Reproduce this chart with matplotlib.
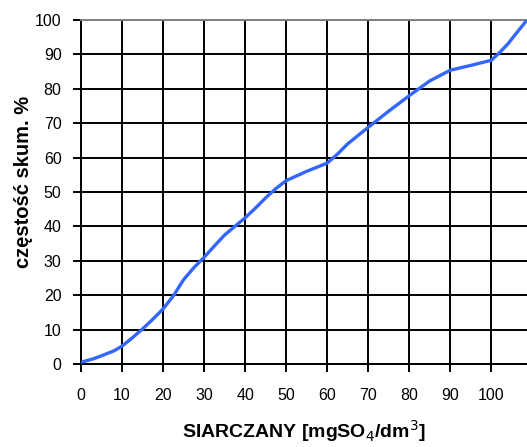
import matplotlib
matplotlib.use("Agg")
import matplotlib.pyplot as plt

plt.rcParams['font.family'] = ['Liberation Sans', 'DejaVu Sans']

# cumulative frequency of sulphate concentration
siarczany = [0, 3, 5, 8, 10, 12.5, 15, 17.5, 20, 22.5, 25, 27.5, 30, 32.5, 35, 37.5,
             40, 42.5, 45, 47.5, 50, 55, 60, 62.5, 65, 70, 75, 80, 85, 90, 95,
             100, 102, 104, 106, 108.7]
czestosc = [0.5, 1.5, 2.4, 3.8, 5.2, 7.6, 10.2, 13.0, 16.0, 19.8, 24.5, 28.0, 31.0, 34.3, 37.5, 40.0,
            42.5, 45.3, 48.3, 51.0, 53.3, 56.0, 58.4, 61.0, 64.0, 68.8, 73.5, 78.0, 82.3, 85.4, 86.8,
            88.3, 90.5, 93.0, 96.0, 100.0]

x_ticks = [0, 10, 20, 30, 40, 50, 60, 70, 80, 90, 100]
y_ticks = [0, 10, 20, 30, 40, 50, 60, 70, 80, 90, 100]

fig = plt.figure(figsize=(5.27, 4.47), dpi=100)
ax = fig.add_axes([0.1537, 0.1857, 0.8463, 0.7696])

ax.plot(siarczany, czestosc, color='#3366ff', linewidth=2.4, solid_capstyle='round', zorder=3)

ax.set_xlim(0, 108.7)
ax.set_ylim(0, 100)
ax.set_xticks(x_ticks)
ax.set_yticks(y_ticks)
ax.grid(True, color='black', linewidth=1.4)
ax.set_axisbelow(True)

for side in ('left', 'bottom'):
    ax.spines[side].set_color('black')
    ax.spines[side].set_linewidth(1.4)
ax.spines['top'].set_color('#808080')
ax.spines['top'].set_linewidth(1.4)
ax.spines['right'].set_visible(False)

ax.tick_params(axis='both', direction='out', width=1.4, color='black',
               labelsize=11.5, labelcolor='black')
ax.tick_params(axis='x', length=6, pad=11)
ax.tick_params(axis='y', length=6, pad=8)

ax.set_xlabel('SIARCZANY [mgSO$_4$/dm$^3$]', fontsize=14, fontweight='bold')
ax.set_ylabel('częstość skum. %', fontsize=14.5, fontweight='bold')
ax.xaxis.set_label_coords(0.5, -0.158)
ax.yaxis.set_label_coords(-0.108, 0.528)

fig.savefig('out.png', dpi=100)
